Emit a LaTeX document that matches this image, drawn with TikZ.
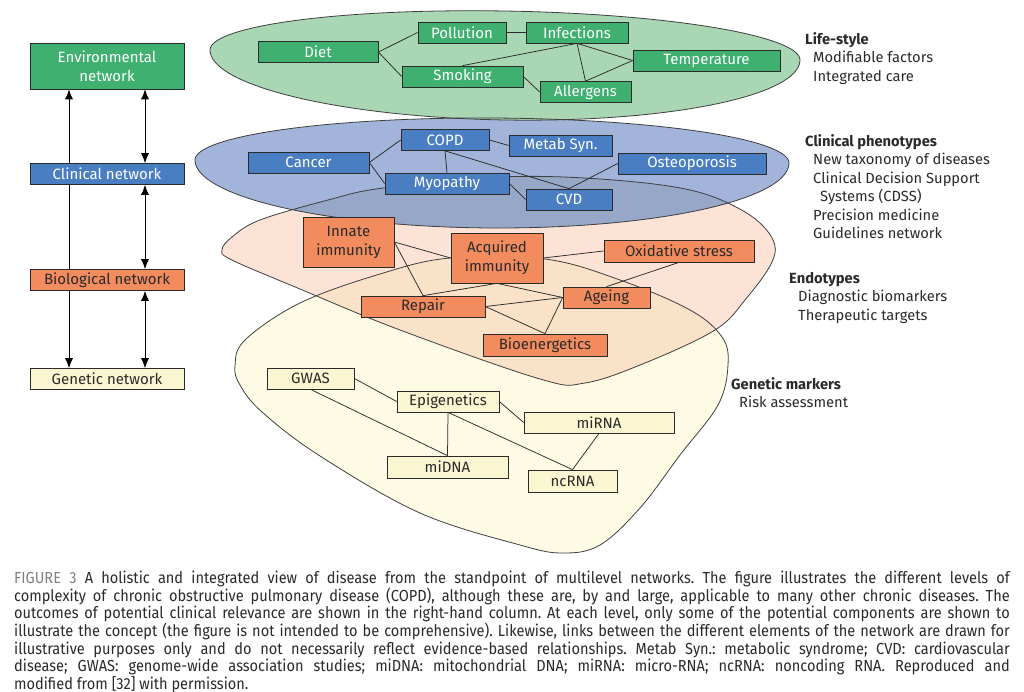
\documentclass[tikz,border=0pt]{standalone}
\usepackage{fontspec}
\setmainfont{Fira Sans}
\usepackage{graphicx}
\usetikzlibrary{arrows.meta,positioning}

\definecolor{envgreen}{HTML}{3FB06F}
\definecolor{envfill}{HTML}{A9D6B3}
\definecolor{clinblue}{HTML}{4A7EC2}
\definecolor{clinfill}{HTML}{A2B4DA}
\definecolor{bioorange}{HTML}{F28C5E}
\definecolor{biofill}{HTML}{FDE3D6}
\definecolor{genyellow}{HTML}{FBF6D2}
\definecolor{genfill}{HTML}{FEFBE4}
\definecolor{clinbio}{HTML}{97A7C8}
\definecolor{biogen}{HTML}{FAE2C8}
\definecolor{ink}{HTML}{2A2A2A}

\tikzset{box/.style={draw=ink,line width=0.7pt,inner sep=0pt,
                     minimum height=21pt,align=center,
                     font=\fontsize{15}{19}\selectfont}}
\tikzset{envbox/.style={box,fill=envgreen,text=white}}
\tikzset{clinbox/.style={box,fill=clinblue,text=white}}
\tikzset{biobox/.style={box,fill=bioorange,text=ink}}
\tikzset{genbox/.style={box,fill=genyellow,text=ink}}

% outlines of the four layers
\def\envshape{plot[domain=0:360,samples=150]
  ({505+295*cos(\x)},{55+(44+21*(sin(\x)>0))*sin(\x)+5*cos(\x)}) -- cycle}
\def\clinshape{plot[domain=0:360,samples=150]
  ({492+297*cos(\x)},{161.5+(43.5+23*(sin(\x)>0))*sin(\x)+1.5*cos(\x)}) -- cycle}
\def\bioshape{plot[smooth cycle,tension=0.6] coordinates {
  (222,250) (232,237) (260,220) (328,200) (383,188) (500,177) (600,179)
  (690,190) (745,212) (772,238) (772,262) (745,300) (715,330) (645,363)
  (585,383) (540,379) (400,330) (300,289) (232,260)}}
\def\genshape{plot[smooth cycle,tension=0.6] coordinates {
  (235,366) (245,340) (300,303) (380,274) (450,258) (545,259) (620,280)
  (690,310) (722,337) (728,365) (718,405) (680,455) (640,508) (600,545)
  (563,553) (520,545) (420,513) (320,456) (262,412) (240,385)}}

\begin{document}
\begin{tikzpicture}[x=1pt,y=-1pt,>={Latex[length=10pt,width=8pt]},
    % styles for clarity
    layer/.style  ={draw=ink!90,line width=0.8pt},
    link/.style   ={draw=ink,line width=0.75pt},
    outcome/.style={anchor=north west,inner sep=0pt,align=left,text=ink,
                    font=\fontsize{14.7}{18.5}\selectfont}
  ]
  \fill[white] (0,0) rectangle (1024,692);
  \useasboundingbox (0,0) rectangle (1024,692);

  % layers
  \fill[genfill] \genshape;
  \fill[biofill] \bioshape;
  \begin{scope}
    \clip \genshape;
    \fill[biogen] \bioshape;
  \end{scope}
  \fill[clinfill] \clinshape;
  \begin{scope}
    \clip \bioshape;
    \fill[clinbio] \clinshape;
  \end{scope}
  \fill[envfill] \envshape;
  \draw[layer] \genshape;
  \draw[layer] \bioshape;
  \draw[layer] \clinshape;
  \draw[layer] \envshape;

  % network levels
  \node[envbox,minimum width=154pt,minimum height=46pt] (env) at (107,66) {Environmental\\network};
  \node[clinbox,minimum width=154pt] (clin) at (107,174) {Clinical network};
  \node[biobox,minimum width=154pt] (bio) at (107,280) {Biological network};
  \node[genbox,minimum width=154pt] (gen) at (107,379) {Genetic network};

  \coordinate (lx) at (69,0);
  \coordinate (rx) at (145,0);
  \draw[link,black,->] (clin.north -| lx) -- (env.south -| lx);
  \draw[link,black,<->] (env.south -| rx) -- (clin.north -| rx);
  \draw[link,black] (clin.south -| lx) -- (bio.north -| lx);
  \draw[link,black,<->] (clin.south -| rx) -- (bio.north -| rx);
  \draw[link,black,->] (bio.south -| lx) -- (gen.north -| lx);
  \draw[link,black,<->] (bio.south -| rx) -- (gen.north -| rx);

  % environment
  \node[envbox,minimum width=120pt] (diet) at (318,52) {Diet};
  \node[envbox,minimum width=88pt] (pollution) at (462,32.5) {Pollution};
  \node[envbox,minimum width=102pt] (infections) at (577,32.5) {Infections};
  \node[envbox,minimum width=147pt] (temperature) at (706.5,60.5) {Temperature};
  \node[envbox,minimum width=121pt] (smoking) at (462.5,76.5) {Smoking};
  \node[envbox,minimum width=91pt] (allergens) at (585.5,92) {Allergens};

  \draw[link] (diet.east) -- (pollution.west);
  \draw[link] (diet.east) -- (smoking.west);
  \draw[link] (pollution) -- (infections);
  \draw[link] (infections.south) -- (smoking.north);
  \draw[link] (infections.south) -- (allergens.north);
  \draw[link] (infections.south) -- (temperature.west);
  \draw[link] (allergens.north) -- (temperature.west);
  \draw[link] (smoking.east) -- (allergens.west);

  % clinical
  \node[clinbox,minimum width=121pt] (cancer) at (308.5,162.5) {Cancer};
  \node[clinbox,minimum width=88pt] (copd) at (445,140) {COPD};
  \node[clinbox,minimum width=103pt] (metab) at (560.5,145.5) {Metab Syn.};
  \node[clinbox,minimum width=148pt] (osteo) at (692,163.5) {Osteoporosis};
  \node[clinbox,minimum width=124pt] (myopathy) at (447,183.5) {Myopathy};
  \node[clinbox,minimum width=86pt] (cvd) at (569,199.5) {CVD};

  \draw[link] (cancer.east) -- (copd.west);
  \draw[link] (cancer.east) -- (myopathy.west);
  \draw[link] (copd.east) -- (metab.west);
  \draw[link] (copd.south) -- (myopathy.north);
  \draw[link] (copd.south) -- (cvd.north);
  \draw[link] (myopathy.east) -- (cvd.west);
  \draw[link] (cvd.north) -- (osteo.west);

  % biological
  \node[biobox,minimum width=91pt,minimum height=50pt] (innate) at (348.5,242) {Innate\\immunity};
  \node[biobox,minimum width=92pt,minimum height=50pt] (acquired) at (497,258) {Acquired\\immunity};
  \node[biobox,minimum width=150pt,minimum height=22pt] (oxidative) at (679,251) {Oxidative stress};
  \node[biobox,minimum width=124pt] (repair) at (423,306.5) {Repair};
  \node[biobox,minimum width=87pt] (ageing) at (606.5,297.5) {Ageing};
  \node[biobox,minimum width=124pt,minimum height=22pt] (bioenergetics) at (545,345) {Bioenergetics};

  \draw[link] (innate.east) -- (acquired.west);
  \draw[link] (innate.east) -- (repair.north);
  \draw[link] (acquired.south) -- (repair.north);
  \draw[link] (acquired.south) -- (ageing.west);
  \draw[link] (acquired.east) -- (oxidative.west);
  \draw[link] (oxidative.south) -- (ageing.north);
  \draw[link] (repair.east) -- (ageing.west);
  \draw[link] (repair.east) -- (bioenergetics.north);
  \draw[link] (ageing.west) -- (bioenergetics.north);

  % genetic
  \node[genbox,minimum width=87pt] (gwas) at (310.5,378.5) {GWAS};
  \node[genbox,minimum width=102pt] (epigenetics) at (448,401.5) {Epigenetics};
  \node[genbox,minimum width=150pt] (mirna) at (599,422.5) {miRNA};
  \node[genbox,minimum width=121pt,minimum height=22pt] (midna) at (447.5,467) {miDNA};
  \node[genbox,minimum width=89pt,minimum height=22pt] (ncrna) at (572.5,481) {ncRNA};

  \draw[link] (gwas.east) -- (epigenetics.west);
  \draw[link] (gwas.south) -- (midna.north);
  \draw[link] (epigenetics.south) -- (midna.north);
  \draw[link] (epigenetics.south) -- (ncrna.north);
  \draw[link] (epigenetics.east) -- (mirna.west);
  \draw[link] (mirna.south) -- (ncrna.north);

  % outcomes
  \node[outcome] (lifestyle) at (805,32) {\textbf{Life-style}\\
    \hspace*{8pt}Modifiable factors\\\hspace*{8pt}Integrated care};
  \node[outcome] (phenotypes) at (805,134) {\textbf{Clinical phenotypes}\\
    \hspace*{8pt}New taxonomy of diseases\\
    \hspace*{8pt}Clinical Decision Support\\
    \hspace*{15pt}Systems (CDSS)\\
    \hspace*{8pt}Precision medicine\\
    \hspace*{8pt}Guidelines network};
  \node[outcome] (endotypes) at (789,272) {\textbf{Endotypes}\\
    \hspace*{9pt}Diagnostic biomarkers\\\hspace*{9pt}Therapeutic targets};
  \node[outcome] (markers) at (731,377) {\textbf{Genetic markers}\\
    \hspace*{8pt}Risk assessment};

  % caption
  \node[anchor=north west,inner sep=0pt,text=ink] (caption) at (14,571)
    {\scalebox{0.91}[1]{\parbox{1094pt}{\fontsize{16}{17.6}\selectfont\frenchspacing
    {\color{gray}FIGURE 3} A holistic and integrated view of disease from the standpoint of multilevel networks. The figure illustrates the different levels of\linebreak
    complexity of chronic obstructive pulmonary disease (COPD), although these are, by and large, applicable to many other chronic diseases. The\linebreak
    outcomes of potential clinical relevance are shown in the right-hand column. At each level, only some of the potential components are shown to\linebreak
    illustrate the concept (the figure is not intended to be comprehensive). Likewise, links between the different elements of the network are drawn for\linebreak
    illustrative purposes only and do not necessarily reflect evidence-based relationships. Metab Syn.: metabolic syndrome; CVD: cardiovascular\linebreak
    disease; GWAS: genome-wide association studies; miDNA: mitochondrial DNA; miRNA: micro-RNA; ncRNA: noncoding RNA. Reproduced and\linebreak
    modified from [32] with permission.}}};
\end{tikzpicture}
\end{document}
